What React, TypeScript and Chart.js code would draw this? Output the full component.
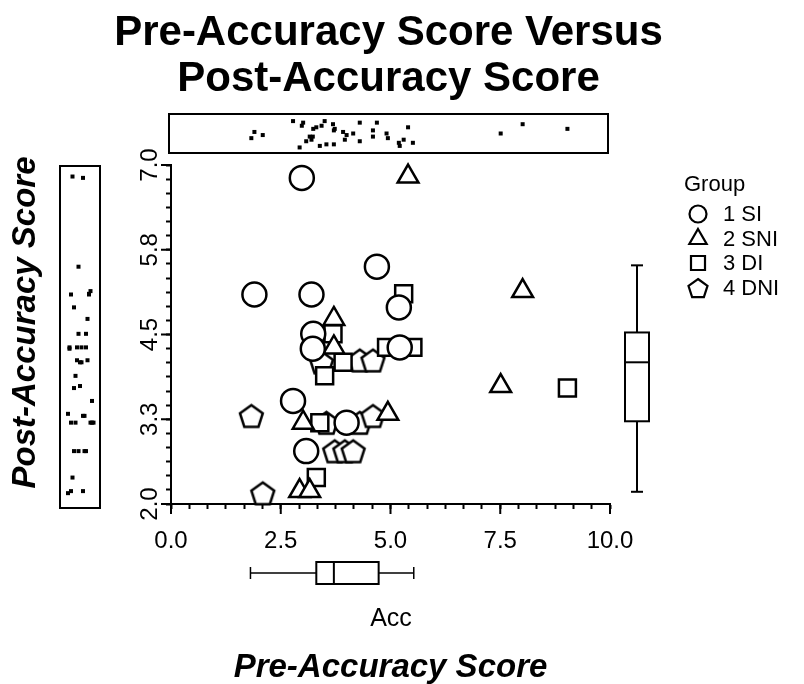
import React, { useEffect, useRef } from 'react';
import { Chart, registerables } from 'chart.js';

Chart.register(...registerables);

const FONT = '"Liberation Sans", Arial, Helvetica, sans-serif';

// ---- data ----
const groupLabels = ['1 SI', '2 SNI', '3 DI', '4 DNI'];

const siX = [2.98, 1.9, 3.2, 4.69, 5.19, 3.24, 3.23, 5.21, 2.78, 4.0, 3.08];
const siY = [6.81, 5.09, 5.09, 5.5, 4.9, 4.51, 4.29, 4.31, 3.52, 3.2, 2.78];

const sniX = [5.4, 8.01, 7.51, 4.94, 3.71, 3.71, 3.01, 2.93, 3.16];
const sniY = [6.83, 5.14, 3.74, 3.33, 4.73, 4.31, 3.2, 2.19, 2.19];

const diX = [9.03, 5.3, 3.69, 4.91, 5.51, 3.92, 3.5, 3.39, 3.31];
const diY = [3.71, 5.1, 4.51, 4.31, 4.31, 4.09, 3.89, 3.2, 2.39];

const dniX = [1.83, 2.09, 3.43, 4.3, 4.6, 3.54, 4.3, 4.6, 3.73, 3.96, 4.15];
const dniY = [3.3, 2.16, 4.09, 4.12, 4.12, 3.2, 3.2, 3.3, 2.78, 2.78, 2.78];

// strip-plot jitter positions (fraction of strip width), read by eye
const topStripJitter = [0.25, 0.45, 0.7, 0.15, 0.8, 0.35, 0.6, 0.9, 0.1, 0.55, 0.75, 0.3, 0.2, 0.5, 0.65, 0.85, 0.4, 0.15, 0.95, 0.6, 0.35, 0.7, 0.2, 0.5, 0.8, 0.45, 0.1, 0.9, 0.3, 0.65, 0.55, 0.25, 0.75, 0.4, 0.85, 0.15, 0.6, 0.35, 0.7, 0.5];
const leftStripJitter = [0.6, 0.2, 0.8, 0.45, 0.3, 0.7, 0.15, 0.55, 0.9, 0.35, 0.65, 0.25, 0.85, 0.5, 0.1, 0.75, 0.4, 0.95, 0.2, 0.6, 0.3, 0.8, 0.45, 0.15, 0.7, 0.55, 0.35, 0.9, 0.25, 0.65, 0.1, 0.5, 0.75, 0.4, 0.85, 0.2, 0.6, 0.3, 0.7, 0.45];

// box plot stats: [low whisker, Q1, median, Q3, high whisker]
const accBox = [1.81, 3.31, 3.71, 4.73, 5.53];
const postBox = [2.18, 3.22, 4.09, 4.53, 5.52];

const xMajorTicks = [0, 2.5, 5, 7.5, 10];
const xTickLabels = ['0.0', '2.5', '5.0', '7.5', '10.0'];
const yMajorTicks = [2, 3.25, 4.5, 5.75, 7];
const yTickLabels = ['2.0', '3.3', '4.5', '5.8', '7.0'];
const minorPerMajor = 6;

const titleLines = ['Pre-Accuracy Score Versus', 'Post-Accuracy Score'];
const xTitle = 'Pre-Accuracy Score';
const yTitle = 'Post-Accuracy Score';
const boxLabel = 'Acc';
const legendTitle = 'Group';

function subdivide(majors: number[], n: number) {
  const out: number[] = [];
  for (let i = 0; i < majors.length - 1; i++) {
    for (let j = 0; j < n; j++) out.push(majors[i] + ((majors[i + 1] - majors[i]) * j) / n);
  }
  out.push(majors[majors.length - 1]);
  return out;
}

function pentagonPath(ctx: CanvasRenderingContext2D, cx: number, cy: number, r: number) {
  ctx.beginPath();
  for (let i = 0; i < 5; i++) {
    const a = -Math.PI / 2 + (i * 2 * Math.PI) / 5;
    const px = cx + r * Math.cos(a);
    const py = cy + r * Math.sin(a);
    if (i === 0) ctx.moveTo(px, py);
    else ctx.lineTo(px, py);
  }
  ctx.closePath();
}

function makePentagon(r: number, lw: number) {
  const size = Math.ceil(2 * r + lw * 2 + 2);
  const c = document.createElement('canvas');
  c.width = size;
  c.height = size;
  const ctx = c.getContext('2d')!;
  pentagonPath(ctx, size / 2, size / 2 + r * 0.1, r);
  ctx.fillStyle = '#fff';
  ctx.fill();
  ctx.lineWidth = lw;
  ctx.strokeStyle = '#000';
  ctx.lineJoin = 'miter';
  ctx.stroke();
  return c;
}

function drawLegendMarker(ctx: CanvasRenderingContext2D, kind: number, x: number, y: number) {
  ctx.save();
  ctx.lineWidth = 2.2;
  ctx.strokeStyle = '#000';
  ctx.fillStyle = '#fff';
  ctx.beginPath();
  if (kind === 0) {
    ctx.arc(x, y, 8.5, 0, Math.PI * 2);
  } else if (kind === 1) {
    const r = 10;
    ctx.moveTo(x, y - r);
    ctx.lineTo(x + r * Math.sin((2 * Math.PI) / 3), y - r * Math.cos((2 * Math.PI) / 3));
    ctx.lineTo(x + r * Math.sin((4 * Math.PI) / 3), y - r * Math.cos((4 * Math.PI) / 3));
    ctx.closePath();
  } else if (kind === 2) {
    ctx.rect(x - 7, y - 7, 14, 14);
  } else {
    pentagonPath(ctx, x, y + 1, 10);
  }
  ctx.fill();
  ctx.stroke();
  ctx.restore();
}

export default function App() {
  const ref = useRef<HTMLCanvasElement | null>(null);

  useEffect(() => {
    document.body.style.margin = '0';
    const canvas = ref.current!;
    const pent = makePentagon(12, 2.5);

    const allX = [...siX, ...sniX, ...diX, ...dniX];
    const allY = [...siY, ...sniY, ...diY, ...dniY];
    const xAllTicks = subdivide(xMajorTicks, minorPerMajor);
    const yAllTicks = subdivide(yMajorTicks, minorPerMajor);

    const line = (ctx: CanvasRenderingContext2D, x1: number, y1: number, x2: number, y2: number) => {
      ctx.beginPath();
      ctx.moveTo(x1, y1);
      ctx.lineTo(x2, y2);
      ctx.stroke();
    };

    const extras = {
      id: 'extras',
      afterDraw(chart: any) {
        const ctx: CanvasRenderingContext2D = chart.ctx;
        const xs = chart.scales.x;
        const ys = chart.scales.y;
        const area = chart.chartArea;
        ctx.save();
        ctx.fillStyle = '#000';
        ctx.strokeStyle = '#000';

        // main title
        ctx.textAlign = 'center';
        ctx.textBaseline = 'alphabetic';
        ctx.font = `bold 42px ${FONT}`;
        ctx.fillText(titleLines[0], 388.5, 45);
        ctx.fillText(titleLines[1], 388.5, 91);

        // major tick marks (longer)
        ctx.lineWidth = 2;
        xMajorTicks.forEach((v) => {
          const px = xs.getPixelForValue(v);
          line(ctx, px, area.bottom, px, area.bottom + 10);
        });
        yMajorTicks.forEach((v) => {
          const py = ys.getPixelForValue(v);
          line(ctx, area.left, py, area.left - 10, py);
        });

        // rotated y tick labels
        ctx.font = `24px ${FONT}`;
        yMajorTicks.forEach((v, i) => {
          const py = ys.getPixelForValue(v);
          ctx.save();
          ctx.translate(157, py);
          ctx.rotate(-Math.PI / 2);
          ctx.textAlign = 'center';
          ctx.textBaseline = 'alphabetic';
          ctx.fillText(yTickLabels[i], 0, 0);
          ctx.restore();
        });

        // axis titles
        ctx.font = `italic bold 33px ${FONT}`;
        ctx.textAlign = 'center';
        ctx.fillText(xTitle, (area.left + area.right) / 2, 677);
        ctx.save();
        ctx.translate(35, (area.top + area.bottom) / 2 - 12);
        ctx.rotate(-Math.PI / 2);
        ctx.fillText(yTitle, 0, 0);
        ctx.restore();

        // top strip plot (x values)
        const tL = 169, tR = 608, tT = 114, tB = 153;
        ctx.lineWidth = 2;
        ctx.strokeRect(tL, tT, tR - tL, tB - tT);
        allX.forEach((v, i) => {
          const px = xs.getPixelForValue(v);
          const py = tT + 4 + topStripJitter[i] * (tB - tT - 8);
          ctx.fillRect(px - 2, py - 2, 4, 4);
        });

        // left strip plot (y values)
        const lL = 60, lR = 100, lT = 166, lB = 508;
        ctx.strokeRect(lL, lT, lR - lL, lB - lT);
        allY.forEach((v, i) => {
          const py = ys.getPixelForValue(v);
          const px = lL + 5 + leftStripJitter[i] * (lR - lL - 10);
          ctx.fillRect(px - 2, py - 2, 4, 4);
        });

        // bottom box plot (x)
        const by = 573, bh = 11, cap = 6;
        const [a0, a1, a2, a3, a4] = accBox.map((v) => xs.getPixelForValue(v));
        ctx.lineWidth = 1.5;
        line(ctx, a0, by, a1, by);
        line(ctx, a3, by, a4, by);
        line(ctx, a0, by - cap, a0, by + cap);
        line(ctx, a4, by - cap, a4, by + cap);
        ctx.lineWidth = 2;
        ctx.strokeRect(a1, by - bh, a3 - a1, 2 * bh);
        line(ctx, a2, by - bh, a2, by + bh);

        // right box plot (y)
        const bx = 637, bw = 12;
        const [p0, p1, p2, p3, p4] = postBox.map((v) => ys.getPixelForValue(v));
        ctx.lineWidth = 2;
        line(ctx, bx, p0, bx, p1);
        line(ctx, bx, p3, bx, p4);
        line(ctx, bx - cap, p0, bx + cap, p0);
        line(ctx, bx - cap, p4, bx + cap, p4);
        ctx.strokeRect(bx - bw, p3, 2 * bw, p1 - p3);
        line(ctx, bx - bw, p2, bx + bw, p2);

        // "Acc" label
        ctx.font = `25px ${FONT}`;
        ctx.textAlign = 'center';
        ctx.textBaseline = 'alphabetic';
        ctx.fillText(boxLabel, 391, 626);

        // legend
        ctx.font = `22px ${FONT}`;
        ctx.textAlign = 'left';
        ctx.fillText(legendTitle, 684, 191);
        const legY = [214, 239, 263, 288];
        ctx.textBaseline = 'middle';
        groupLabels.forEach((lab, i) => {
          drawLegendMarker(ctx, i, 698, legY[i]);
          ctx.fillStyle = '#000';
          ctx.fillText(lab, 723, legY[i] + 1);
        });

        ctx.restore();
      },
    };

    const mk = (xsArr: number[], ysArr: number[]) => xsArr.map((x, i) => ({ x, y: ysArr[i] }));
    const common = { borderColor: '#000', backgroundColor: '#fff', borderWidth: 2.5, clip: false as any };

    const chart = new Chart(canvas, {
      type: 'scatter',
      data: {
        datasets: [
          { label: groupLabels[0], data: mk(siX, siY), pointStyle: 'circle', pointRadius: 12, ...common },
          { label: groupLabels[1], data: mk(sniX, sniY), pointStyle: 'triangle', pointRadius: 12, ...common },
          { label: groupLabels[2], data: mk(diX, diY), pointStyle: 'rect', pointRadius: 12, ...common },
          { label: groupLabels[3], data: mk(dniX, dniY), pointStyle: pent as any, pointRadius: 12, ...common },
        ],
      },
      options: {
        responsive: false,
        animation: false,
        events: [],
        layout: { padding: { left: 0, top: 165, right: 194, bottom: 0 } },
        plugins: { legend: { display: false }, tooltip: { enabled: false }, title: { display: false } },
        scales: {
          x: {
            type: 'linear',
            min: 0,
            max: 10,
            position: 'bottom',
            afterBuildTicks: (s: any) => {
              s.ticks = xAllTicks.map((v) => ({ value: v }));
            },
            afterFit: (s: any) => {
              s.height = 180;
            },
            grid: { drawOnChartArea: false, drawTicks: true, tickLength: 5, tickWidth: 2, tickColor: '#000' },
            border: { display: true, color: '#000', width: 2 },
            ticks: {
              autoSkip: false,
              maxRotation: 0,
              minRotation: 0,
              padding: 18,
              color: '#000',
              font: { family: FONT, size: 24 },
              callback: (v: any) => {
                const k = xMajorTicks.findIndex((m) => Math.abs(m - Number(v)) < 1e-6);
                return k >= 0 ? xTickLabels[k] : '';
              },
            },
          },
          y: {
            type: 'linear',
            min: 2,
            max: 7,
            position: 'left',
            afterBuildTicks: (s: any) => {
              s.ticks = yAllTicks.map((v) => ({ value: v }));
            },
            afterFit: (s: any) => {
              s.width = 171;
            },
            grid: { drawOnChartArea: false, drawTicks: true, tickLength: 5, tickWidth: 2, tickColor: '#000' },
            border: { display: true, color: '#000', width: 2 },
            ticks: { display: false },
          },
        },
      },
      plugins: [extras],
    });

    return () => chart.destroy();
  }, []);

  return (
    <div style={{ width: 804, height: 684, position: 'relative', background: '#fff' }}>
      <canvas ref={ref} width={804} height={684} style={{ display: 'block', width: 804, height: 684 }} />
    </div>
  );
}
